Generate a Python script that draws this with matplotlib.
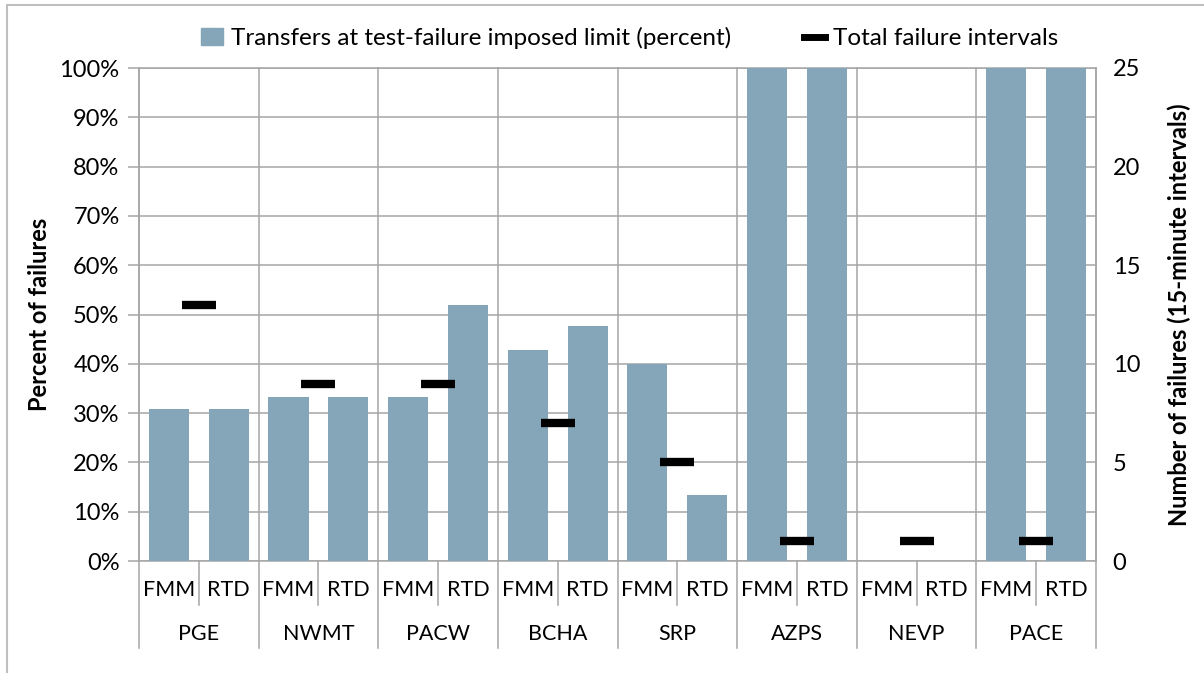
import matplotlib
matplotlib.use("Agg")
import matplotlib.pyplot as plt
from matplotlib.lines import Line2D
from matplotlib.patches import Patch, Rectangle
import numpy as np

plt.rcParams["font.family"] = ["Lato", "DejaVu Sans"]

GROUPS = ["PGE", "NWMT", "PACW", "BCHA", "SRP", "AZPS", "NEVP", "PACE"]
SUBS = ["FMM", "RTD"]
FMM_PCT = [30.8, 33.3, 33.3, 42.9, 40.0, 100.0, 0.0, 100.0]
RTD_PCT = [30.8, 33.3, 51.9, 47.6, 13.3, 100.0, 0.0, 100.0]
TOTAL_FAILS = [13, 9, 9, 7, 5, 1, 1, 1]

BAR_COLOR = "#84A6B8"
GRID = "#A6A6A6"

W, H = 1204, 673
fig = plt.figure(figsize=(W / 100, H / 100), dpi=100)
ax = fig.add_axes([139 / W, 1 - 561 / H, (1096 - 139) / W, (561 - 68) / H])

pct = []
for f, r in zip(FMM_PCT, RTD_PCT):
    pct += [f, r]
x = np.arange(len(pct))
ax.bar(x, pct, width=0.67, color=BAR_COLOR, zorder=3)

ax.set_xlim(-0.5, len(pct) - 0.5)
ax.set_ylim(0, 100)
ax.set_yticks(np.arange(0, 101, 10))
ax.set_yticklabels([f"{v}%" for v in range(0, 101, 10)], fontsize=17)
ax.tick_params(axis="y", length=8, width=1.1, color=GRID, pad=6)
ax.set_xticks([])
ax.grid(True, axis="y", color=GRID, lw=1.1, zorder=1)
for s in ax.spines.values():
    s.set_color(GRID)
    s.set_linewidth(1.1)
ax.set_ylabel("Percent of failures", fontsize=17, fontweight="bold", labelpad=6)

# two-level category axis
tr = ax.get_xaxis_transform()
for g in range(len(GROUPS) + 1):
    xb = 2 * g - 0.5
    ax.plot([xb, xb], [1, -0.176], transform=tr, color=GRID, lw=1.1,
            clip_on=False, zorder=2)
for g, name in enumerate(GROUPS):
    xm = 2 * g + 0.5
    ax.plot([xm, xm], [0, -0.089], transform=tr, color=GRID, lw=1.1,
            clip_on=False)
    for k, sub in enumerate(SUBS):
        ax.text(2 * g + k, -0.059, sub, transform=tr, ha="center",
                va="center", fontsize=15.5)
    ax.text(xm, -0.148, name, transform=tr, ha="center", va="center",
            fontsize=15.5)

ax2 = ax.twinx()
ax2.set_ylim(0, 25)
ax2.set_yticks(np.arange(0, 26, 5))
ax2.tick_params(axis="y", length=0, pad=12, labelsize=17)
for s in ax2.spines.values():
    s.set_visible(False)
mx = np.arange(len(GROUPS)) * 2 + 0.5
ax2.plot(mx, TOTAL_FAILS, linestyle="none", marker="_", ms=25, mew=6,
         color="black", zorder=5)
ax2.set_ylabel("Number of failures (15-minute intervals)", fontsize=17,
               fontweight="bold", labelpad=20)

handles = [
    Patch(color=BAR_COLOR, label="Transfers at test-failure imposed limit (percent)"),
    Line2D([], [], color="black", lw=5, label="Total failure intervals"),
]
fig.legend(handles=handles, loc="center", bbox_to_anchor=(0.523, 1 - 38 / H),
           ncol=2, frameon=False, fontsize=17.5, handlelength=0.9,
           handletextpad=0.3, columnspacing=3.0)

fig.add_artist(Rectangle((7 / W, -0.01), (W - 4) / W, 1 - 5 / H + 0.01,
                         transform=fig.transFigure, fill=False,
                         edgecolor="#BFBFBF", lw=1.5))

fig.savefig("out.png", dpi=100)
